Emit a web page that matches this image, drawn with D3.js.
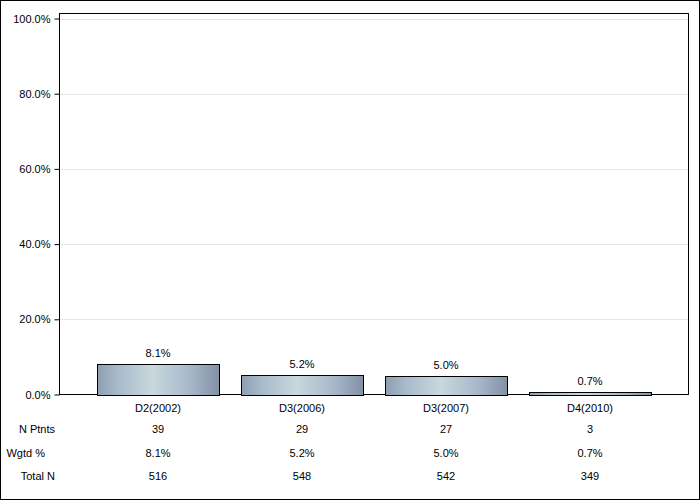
<!DOCTYPE html>
<html><head><meta charset="utf-8">
<script src="https://cdn.jsdelivr.net/npm/d3@7/dist/d3.min.js"></script>
<style>body{margin:0;background:#fff}svg text{font-family:"Liberation Sans",Arial,sans-serif;font-size:11px;fill:#000}</style>
</head><body><svg id="c" width="700" height="500"></svg>
<script>
const categories = ["D2(2002)", "D3(2006)", "D3(2007)", "D4(2010)"];
const values = [8.1, 5.2, 5.0, 0.7];
const nPtnts = ["39", "29", "27", "3"];
const wgtd = ["8.1%", "5.2%", "5.0%", "0.7%"];
const totalN = ["516", "548", "542", "349"];
const rowLabels = ["N Ptnts", "Wgtd %", "Total N"];
const yTicks = [0, 20, 40, 60, 80, 100];

const svg = d3.select("#c");
const L = 59.5, R = 688.5, T = 13.5, B = 394.5;
const y = d3.scaleLinear().domain([0, 100]).range([394.5, 18.5]);
const x = d3.scaleBand().domain(categories).range([86, 662]).paddingInner(0.15).paddingOuter(0.075);

svg.append("rect").attr("x", 0.5).attr("y", 0.5).attr("width", 699).attr("height", 499)
  .attr("fill", "#fff").attr("stroke", "#000");

const defs = svg.append("defs");
const g = defs.append("linearGradient").attr("id", "bg").attr("x1", "0").attr("x2", "1").attr("y1", "0").attr("y2", "0");
[["0%", "#8e9eb0"], ["18%", "#aabccd"], ["45%", "#c8d8dc"], ["75%", "#a9b9cc"], ["100%", "#8292a4"]]
  .forEach(([o, c]) => g.append("stop").attr("offset", o).attr("stop-color", c));

// gridlines
svg.append("g").selectAll("line").data(yTicks.filter(d => d > 0)).join("line")
  .attr("x1", L).attr("x2", R).attr("y1", d => Math.round(y(d)) + 0.5).attr("y2", d => Math.round(y(d)) + 0.5)
  .attr("stroke", "#e6e6e6");

// frame
svg.append("rect").attr("x", L).attr("y", T).attr("width", R - L).attr("height", B - T)
  .attr("fill", "none").attr("stroke", "#000");

// y axis
const ya = d3.axisLeft(y).tickValues(yTicks).tickFormat(d => d.toFixed(1) + "%").tickSize(5).tickPadding(4);
const yg = svg.append("g").attr("transform", `translate(${L},0)`).call(ya);
yg.select(".domain").remove();
yg.selectAll("line").attr("stroke", "#000");
yg.selectAll("text").style("font-family", '"Liberation Sans",Arial,sans-serif').style("font-size", "11px");

// bars
svg.append("g").selectAll("rect").data(values).join("rect")
  .attr("x", (d, i) => Math.round(x(categories[i])) + 0.5)
  .attr("y", d => Math.round(y(d)) + 0.5)
  .attr("width", Math.round(x.bandwidth()))
  .attr("height", d => Math.round(y(0)) - Math.round(y(d)))
  .attr("fill", "url(#bg)").attr("stroke", "#000");

svg.append("g").selectAll("text").data(values).join("text")
  .attr("x", (d, i) => x(categories[i]) + x.bandwidth() / 2)
  .attr("y", d => y(d) - 7)
  .attr("text-anchor", "middle").text(d => d.toFixed(1) + "%");

// category labels
svg.append("g").selectAll("text").data(categories).join("text")
  .attr("x", d => x(d) + x.bandwidth() / 2).attr("y", 412)
  .attr("text-anchor", "middle").text(d => d);

// table
const rows = [nPtnts, wgtd, totalN];
const rowY = [433, 457, 480];
rows.forEach((r, ri) => {
  svg.append("g").selectAll("text").data(r).join("text")
    .attr("x", (d, i) => x(categories[i]) + x.bandwidth() / 2).attr("y", rowY[ri])
    .attr("text-anchor", "middle").text(d => d);
});
const rowX = [55, 45, 55];
svg.append("g").selectAll("text").data(rowLabels).join("text")
  .attr("x", (d, i) => rowX[i]).attr("y", (d, i) => rowY[i])
  .attr("text-anchor", "end").text(d => d);
</script></body></html>
